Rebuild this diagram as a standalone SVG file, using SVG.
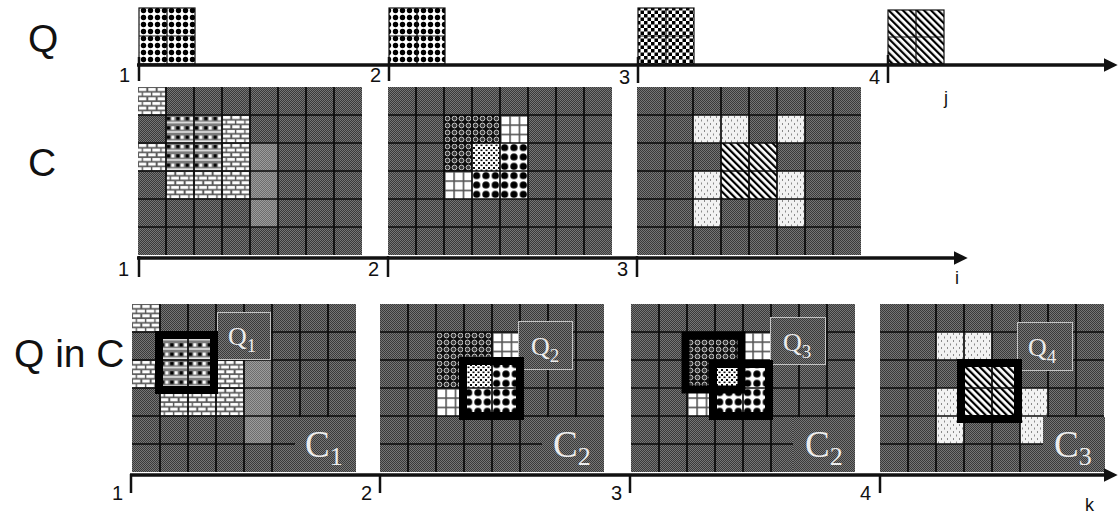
<svg xmlns="http://www.w3.org/2000/svg" xmlns:xlink="http://www.w3.org/1999/xlink" width="1120" height="516" viewBox="0 0 1120 516">
<style>
.lbl{font-family:"Liberation Sans",Arial,sans-serif;fill:#111}
.row{font-size:39px}
.num{font-size:20px;text-anchor:end}
.ax{stroke:#111;stroke-width:3.5;fill:none}
.tick{stroke:#111;stroke-width:2.5}
.gl{stroke:#0a0a0a;stroke-width:1.7;fill:none}
.frame{fill:none;stroke:#000;stroke-width:8}
.qbox{fill:url(#bg);stroke:#c4c4c4;stroke-width:1}
.cbox{fill:url(#bg)}
.ser{font-family:"Liberation Serif","Times New Roman",serif;fill:#ececec}
.qt{font-size:26px}
.ct{font-size:37px}
.qcell{stroke:#111;stroke-width:1.2}
</style>
<defs>
<pattern id="bg" width="2" height="2" patternUnits="userSpaceOnUse"><rect width="2" height="2" fill="#767676"/><rect width="1" height="1" fill="#3a3a3a"/><rect x="1" y="1" width="1" height="1" fill="#3a3a3a"/></pattern>
<pattern id="lg" width="2" height="2" patternUnits="userSpaceOnUse"><rect width="2" height="2" fill="#9c9c9c"/><rect width="1" height="1" fill="#6e6e6e"/><rect x="1" y="1" width="1" height="1" fill="#6e6e6e"/></pattern>
<pattern id="brick" width="9.33" height="9.33" patternUnits="userSpaceOnUse"><rect width="9.33" height="9.33" fill="#5a5a5a"/><rect x="1" y="1" width="7.3" height="3" fill="#fff"/><rect x="-3.7" y="5.66" width="7.3" height="3" fill="#fff"/><rect x="5" y="5.66" width="7.3" height="3" fill="#fff"/></pattern>
<pattern id="lat" width="9.33" height="9.33" patternUnits="userSpaceOnUse"><rect width="9.33" height="9.33" fill="#7a7a7a"/><rect x="0" y="6.8" width="9.33" height="1.6" fill="#e8e8e8"/><rect x="1" y="2" width="3.2" height="3.2" fill="#000"/><rect x="5.3" y="2" width="3" height="3.2" fill="#fff"/></pattern>
<pattern id="diam7" width="7" height="7" patternUnits="userSpaceOnUse"><rect width="7" height="7" fill="#fff"/><circle cx="3.5" cy="3.5" r="2.7" fill="#000"/></pattern>
<pattern id="diam9" width="9.33" height="9.33" patternUnits="userSpaceOnUse"><rect width="9.33" height="9.33" fill="#fff"/><circle cx="4.67" cy="4.67" r="3.6" fill="#000"/></pattern>
<pattern id="bub" width="7" height="7" patternUnits="userSpaceOnUse"><rect width="7" height="7" fill="#0e0e0e"/><circle cx="3.5" cy="3.5" r="2.4" fill="#3a3a3a" stroke="#d8d8d8" stroke-width="0.9"/></pattern>
<pattern id="plaid" width="9.33" height="9.33" patternUnits="userSpaceOnUse"><rect width="9.33" height="9.33" fill="#fff"/><rect width="1.6" height="9.33" fill="#555"/><rect width="9.33" height="1.6" fill="#555"/></pattern>
<pattern id="spk" width="5" height="5" patternUnits="userSpaceOnUse"><rect width="5" height="5" fill="#fff"/><rect x="0" y="0" width="2" height="2" fill="#111"/><rect x="2.5" y="2.5" width="2" height="1.6" fill="#111"/></pattern>
<pattern id="chk" width="7" height="7" patternUnits="userSpaceOnUse"><rect width="7" height="7" fill="#fff"/><rect width="3.5" height="3.5" fill="#000"/><rect x="3.5" y="3.5" width="3.5" height="3.5" fill="#000"/></pattern>
<pattern id="str" width="5" height="5" patternUnits="userSpaceOnUse" patternTransform="rotate(-45)"><rect width="5" height="5" fill="#fff"/><rect width="2.2" height="5" fill="#000"/></pattern>
<pattern id="lsp" width="6" height="7" patternUnits="userSpaceOnUse"><rect width="6" height="7" fill="#f2f2f2"/><rect x="1" y="1" width="1" height="2" fill="#8a8a8a"/><rect x="4" y="4.5" width="1" height="2" fill="#8a8a8a"/></pattern>
<path id="glines" class="gl" d="M28 0V168M56 0V168M84 0V168M112 0V168M140 0V168M168 0V168M196 0V168M0 28H224M0 56H224M0 84H224M0 112H224M0 140H224"/>
<g id="cellsA">
<rect width="224" height="168" fill="url(#bg)"/>
<rect x="0" y="0" width="28" height="28" fill="url(#brick)"/>
<rect x="84" y="28" width="28" height="84" fill="url(#brick)"/>
<rect x="0" y="56" width="28" height="28" fill="url(#brick)"/>
<rect x="28" y="84" width="56" height="28" fill="url(#brick)"/>
<rect x="28" y="28" width="56" height="56" fill="url(#lat)"/>
<rect x="112" y="56" width="28" height="84" fill="url(#lg)"/>
</g>
<g id="cellsB">
<rect width="224" height="168" fill="url(#bg)"/>
<rect x="56" y="28" width="56" height="28" fill="url(#bub)"/>
<rect x="56" y="56" width="28" height="28" fill="url(#bub)"/>
<rect x="112" y="28" width="28" height="28" fill="url(#plaid)"/>
<rect x="56" y="84" width="28" height="28" fill="url(#plaid)"/>
<rect x="84" y="56" width="28" height="28" fill="url(#spk)"/>
<rect x="112" y="56" width="28" height="56" fill="url(#diam9)"/>
<rect x="84" y="84" width="28" height="28" fill="url(#diam9)"/>
</g>
<g id="cellsC">
<rect width="224" height="168" fill="url(#bg)"/>
<rect x="56" y="28" width="56" height="28" fill="url(#lsp)"/>
<rect x="140" y="28" width="28" height="28" fill="url(#lsp)"/>
<rect x="56" y="84" width="28" height="56" fill="url(#lsp)"/>
<rect x="140" y="84" width="28" height="56" fill="url(#lsp)"/>
<rect x="84" y="56" width="56" height="56" fill="url(#str)"/>
</g>
<marker id="arr" viewBox="0 0 12 12" refX="2" refY="6" markerWidth="4" markerHeight="4" markerUnits="strokeWidth" orient="auto"><path d="M0 0L12 6L0 12z" fill="#111"/></marker>
</defs>
<rect width="1120" height="516" fill="#fff"/>

<g id="row-labels" class="lbl row">
<text x="28" y="52">Q</text>
<text x="28" y="176">C</text>
<text x="14" y="367">Q in C</text>
</g>

<g id="q-row">
<g id="q1"><rect x="139" y="8" width="56" height="56" fill="url(#diam7)" class="qcell"/><path class="qcell" d="M167 8V64M139 36H195"/></g>
<g id="q2"><rect x="389" y="8" width="56" height="56" fill="url(#diam7)" class="qcell"/><path class="qcell" d="M417 8V64M389 36H445"/></g>
<g id="q3"><rect x="638" y="8" width="56" height="56" fill="url(#chk)" class="qcell"/><path class="qcell" d="M666 8V64M638 36H694"/></g>
<g id="q4"><rect x="888" y="10" width="56" height="54" fill="url(#str)" class="qcell"/><path class="qcell" d="M916 10V64M888 37H944"/></g>
</g>

<g id="c-row">
<g id="c1"><use xlink:href="#cellsA" transform="translate(138,87)"/><use xlink:href="#glines" transform="translate(138,87)"/></g>
<g id="c2"><use xlink:href="#cellsB" transform="translate(388,87)"/><use xlink:href="#glines" transform="translate(388,87)"/></g>
<g id="c3"><use xlink:href="#cellsC" transform="translate(637,87)"/><use xlink:href="#glines" transform="translate(637,87)"/></g>
</g>

<g id="qc-row">
<g id="qc1">
<use xlink:href="#cellsA" transform="translate(132,304)"/><use xlink:href="#glines" transform="translate(132,304)"/>
<rect class="cbox" x="295" y="417" width="61" height="55"/>
<rect class="qbox" x="217.5" y="312.5" width="53" height="47"/>
<rect class="frame" x="159" y="335" width="55" height="55"/>
<text class="ser qt" x="228" y="345">Q<tspan font-size="19" dy="7">1</tspan></text>
<text class="ser ct" x="305" y="457">C<tspan font-size="26" dy="8">1</tspan></text>
</g>
<g id="qc2">
<use xlink:href="#cellsB" transform="translate(380,304)"/><use xlink:href="#glines" transform="translate(380,304)"/>
<rect class="cbox" x="542" y="417" width="62" height="55"/>
<rect class="qbox" x="518.5" y="321.5" width="54" height="48"/>
<rect class="frame" x="463" y="361" width="57" height="55"/>
<text class="ser qt" x="531" y="355">Q<tspan font-size="19" dy="7">2</tspan></text>
<text class="ser ct" x="553" y="457">C<tspan font-size="26" dy="8">2</tspan></text>
</g>
<g id="qc3">
<use xlink:href="#cellsB" transform="translate(631,304)"/><use xlink:href="#glines" transform="translate(631,304)"/>
<rect class="cbox" x="793" y="417" width="62" height="55"/>
<rect class="qbox" x="770.5" y="317.5" width="55" height="47"/>
<rect class="frame" x="685.5" y="335.5" width="56" height="54" stroke-width="5"/>
<rect class="frame" x="713" y="364" width="56" height="52"/>
<text class="ser qt" x="783" y="351">Q<tspan font-size="19" dy="7">3</tspan></text>
<text class="ser ct" x="805" y="457">C<tspan font-size="26" dy="8">2</tspan></text>
</g>
<g id="qc4">
<use xlink:href="#cellsC" transform="translate(880,304)"/><use xlink:href="#glines" transform="translate(880,304)"/>
<rect class="cbox" x="1043" y="417" width="62" height="55"/>
<rect class="qbox" x="1017.5" y="322.5" width="55" height="48"/>
<rect class="frame" x="961" y="363" width="57" height="56"/>
<text class="ser qt" x="1028" y="356">Q<tspan font-size="19" dy="7">4</tspan></text>
<text class="ser ct" x="1054" y="457">C<tspan font-size="26" dy="8">3</tspan></text>
</g>
</g>

<g id="connectors">
<path class="ax" d="M137 65H1106" marker-end="url(#arr)"/>
<path class="tick" d="M139 57V81M389 57V81M638 57V83M888 55V83"/>
<path class="ax" d="M137 258H956" marker-end="url(#arr)"/>
<path class="tick" d="M139 256V277M388 256V277M637 256V277"/>
<path class="ax" d="M130 475H1106" marker-end="url(#arr)"/>
<path class="tick" d="M131 474V493M380 474V493M630 474V493M880 474V493"/>
</g>

<g id="axis-labels" class="lbl">
<text class="num" x="130" y="82">1</text>
<text class="num" x="381" y="82">2</text>
<text class="num" x="630" y="84">3</text>
<text class="num" x="880" y="84">4</text>
<text x="944" y="104" font-size="18">j</text>
<text class="num" x="129" y="276">1</text>
<text class="num" x="379" y="276">2</text>
<text class="num" x="628" y="276">3</text>
<text x="955" y="284" font-size="18">i</text>
<text class="num" x="123" y="500">1</text>
<text class="num" x="372" y="500">2</text>
<text class="num" x="622" y="500">3</text>
<text class="num" x="871" y="500">4</text>
<text x="1085" y="511" font-size="18">k</text>
</g>
</svg>
